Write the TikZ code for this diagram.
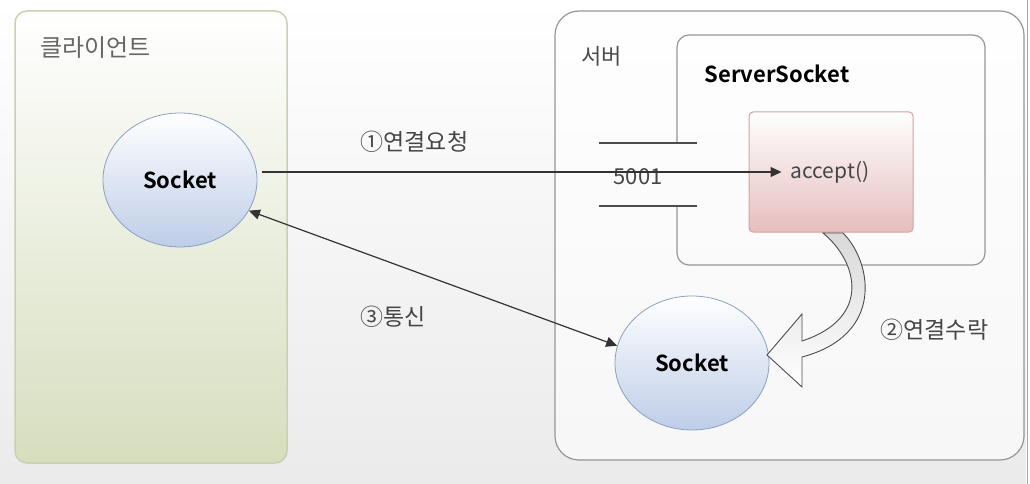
\documentclass[tikz,border=0pt]{standalone}
\usepackage{fontspec}
\setmainfont{Noto Sans CJK KR}[BoldFont=* Bold]
\usetikzlibrary{shapes.geometric, arrows.meta, shadings, positioning}
\definecolor{BoxGrey}{RGB}{150, 150, 150}
\definecolor{ClientGreen}{RGB}{214, 222, 190}
\definecolor{ClientEdge}{RGB}{200, 210, 175}
\definecolor{SockBlue}{RGB}{190, 205, 232}
\definecolor{SockEdge}{RGB}{140, 160, 195}
\definecolor{AcceptPink}{RGB}{230, 190, 190}
\definecolor{AcceptEdge}{RGB}{215, 160, 160}
\definecolor{LabelGrey}{RGB}{70, 70, 70}
\tikzset{
  sockEllipse/.style={ellipse, draw=SockEdge, thick, top color=white, bottom color=SockBlue,
    minimum width=154pt, minimum height=134pt, font=\fontsize{22}{22}\selectfont\bfseries},
  stepLabel/.style={font=\fontsize{23}{23}\selectfont, text=LabelGrey},
  link/.style={draw=black!80, line width=1.2pt, -{Triangle[length=11pt, width=10pt]}}
}
\begin{document}
\begin{tikzpicture}[x=1pt, y=-1pt]
    \useasboundingbox (0,0) rectangle (1030,484);
    % background
    \shade[top color=white, bottom color=black!8] (0,0) rectangle (1026,484);
    \draw[black!35, line width=1pt] (1027,0) -- (1027,484);

    % client side
    \draw[ClientEdge, line width=1.5pt, rounded corners=12pt, top color=white, bottom color=ClientGreen]
      (15,11) rectangle (287,463);
    \node[font=\fontsize{24}{24}\selectfont, text=black!60, anchor=west] (cliTitle) at (37,48) {클라이언트};
    \node[sockEllipse] (cliSock) at (180,180) {Socket};

    % server side
    \draw[BoxGrey, line width=1.2pt, rounded corners=24pt, fill=white, fill opacity=0.6]
      (555,11) rectangle (1024,460);
    \node[font=\fontsize{22}{22}\selectfont, text=black!70, anchor=west] (srvTitle) at (578,56) {서버};

    % ServerSocket box with port opening
    \draw[BoxGrey, line width=1.2pt, rounded corners=12pt]
      (677,143) -- (677,35) -- (985,35) -- (985,265) -- (677,265) -- (677,206);
    \draw[black!70, line width=1.2pt] (599,143) -- (697,143);
    \draw[black!70, line width=1.2pt] (599,206) -- (697,206);
    \node[font=\fontsize{22}{22}\selectfont\bfseries, anchor=west] (ssTitle) at (701,74) {ServerSocket};
    \node[font=\fontsize{22}{22}\selectfont, text=LabelGrey] (port) at (638,177) {5001};

    \node[draw=AcceptEdge, line width=1pt, rounded corners=4pt, top color=white, bottom color=AcceptPink,
      minimum width=164pt, minimum height=120pt] (acceptBox) at (831,172) {};
    \node[font=\fontsize{21}{21}\selectfont, text=LabelGrey, inner sep=9pt] (acc) at (830,172) {accept()};

    \node[sockEllipse] (srvSock) at (692,363) {Socket};

    % connection accept arrow
    \draw[black!70, line width=0.9pt, top color=black!15, bottom color=white, shading angle=0]
      (823,233) .. controls (858,262) and (872,318) .. (802,341) -- (802,314) -- (767,355)
      -- (802,387) -- (802,357) .. controls (885,335) and (872,262) .. (843,233) -- cycle;

    % connectors
    \draw[link] (cliSock.east |- acc.west) ++(5,0) -- (acc.west);
    \draw[link, {Triangle[length=11pt, width=10pt]}-{Triangle[length=11pt, width=10pt]}] (cliSock.-24) -- (srvSock.167);

    % labels
    \node[stepLabel, anchor=west] (lblReq) at (357,142) {①연결요청};
    \node[stepLabel, anchor=west] (lblAcc) at (877,330) {②연결수락};
    \node[stepLabel, anchor=west] (lblCom) at (357,317) {③통신};
\end{tikzpicture}
\end{document}
